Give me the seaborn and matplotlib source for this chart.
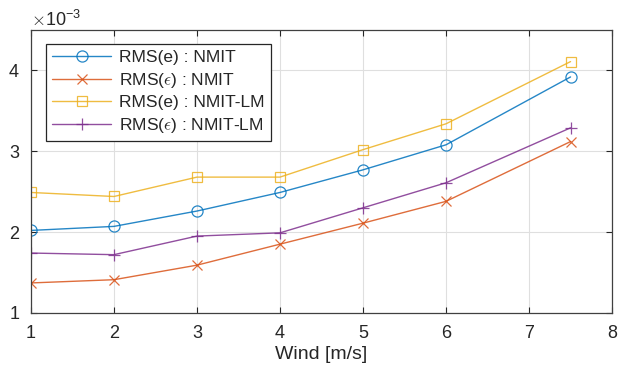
import matplotlib
matplotlib.use("Agg")
import matplotlib.pyplot as plt
import matplotlib.ticker as mticker
import numpy as np
import pandas as pd
import seaborn as sns

wind = [1, 2, 3, 4, 5, 6, 7.5]
rms_e_nmit = [2.02, 2.07, 2.26, 2.49, 2.77, 3.08, 3.92]
rms_eps_nmit = [1.37, 1.41, 1.59, 1.85, 2.11, 2.38, 3.12]
rms_e_nmit_lm = [2.49, 2.44, 2.68, 2.68, 3.02, 3.34, 4.11]
rms_eps_nmit_lm = [1.74, 1.72, 1.95, 1.99, 2.30, 2.61, 3.29]
scale = 1e-3

labels = [r"RMS(e) : NMIT", r"RMS($\epsilon$) : NMIT",
          r"RMS(e) : NMIT-LM", r"RMS($\epsilon$) : NMIT-LM"]
series = [rms_e_nmit, rms_eps_nmit, rms_e_nmit_lm, rms_eps_nmit_lm]
colors = ["#0072BD", "#D95319", "#EDB120", "#7E2F8E"]
markers = ["o", "x", "s", "+"]
msizes = [8, 6.5, 7, 9]

sns.set_theme(style="white")
plt.rcParams["font.family"] = ["Liberation Sans", "DejaVu Sans"]
plt.rcParams["mathtext.fontset"] = "cm"

fig = plt.figure(figsize=(6.31, 3.76), dpi=100)
ax = fig.add_axes([0.049, 0.168, 0.921, 0.752])

for vals, lab, col, mk, ms in zip(series, labels, colors, markers, msizes):
    df = pd.DataFrame({"wind": wind, "rms": np.array(vals) * scale})
    sns.lineplot(data=df, x="wind", y="rms", ax=ax, color=col, label=lab,
                 marker=mk, markersize=ms, markerfacecolor="none",
                 markeredgecolor=col, markeredgewidth=0.9, linewidth=1.0,
                 alpha=0.85)

ax.set_xlim(1, 8)
ax.set_ylim(1e-3, 4.5e-3)
ax.set_xticks(range(1, 9))
ax.set_yticks([1e-3, 2e-3, 3e-3, 4e-3])
fmt = mticker.ScalarFormatter(useMathText=True)
fmt.set_powerlimits((-2, 2))
ax.yaxis.set_major_formatter(fmt)
ax.yaxis.get_offset_text().set_fontsize(13)
ax.yaxis.get_offset_text().set_color("#262626")
ax.yaxis.get_offset_text().set_fontfamily(["Liberation Sans", "DejaVu Sans"])

ax.grid(True, color="#DFDFDF", linewidth=0.8)
ax.set_axisbelow(True)
for sp in ax.spines.values():
    sp.set_color("#404040")
    sp.set_linewidth(0.9)
ax.tick_params(axis="both", direction="in", length=4, width=0.8,
               colors="#262626", labelsize=13, top=True, right=True,
               bottom=True, left=True)
ax.tick_params(axis="x", pad=9)
ax.tick_params(axis="y", pad=8)
ax.set_xlabel("Wind [m/s]", fontsize=14, color="#262626", labelpad=3)
ax.set_ylabel("")

leg = ax.legend(loc="upper left", bbox_to_anchor=(0.026, 0.951), fontsize=12.5,
                frameon=True, fancybox=False, edgecolor="#262626",
                framealpha=1, handlelength=3.4, borderpad=0.35,
                labelspacing=0.32, handletextpad=0.45, borderaxespad=0)
leg.get_frame().set_linewidth(0.9)

fig.savefig("out.png", dpi=100)
